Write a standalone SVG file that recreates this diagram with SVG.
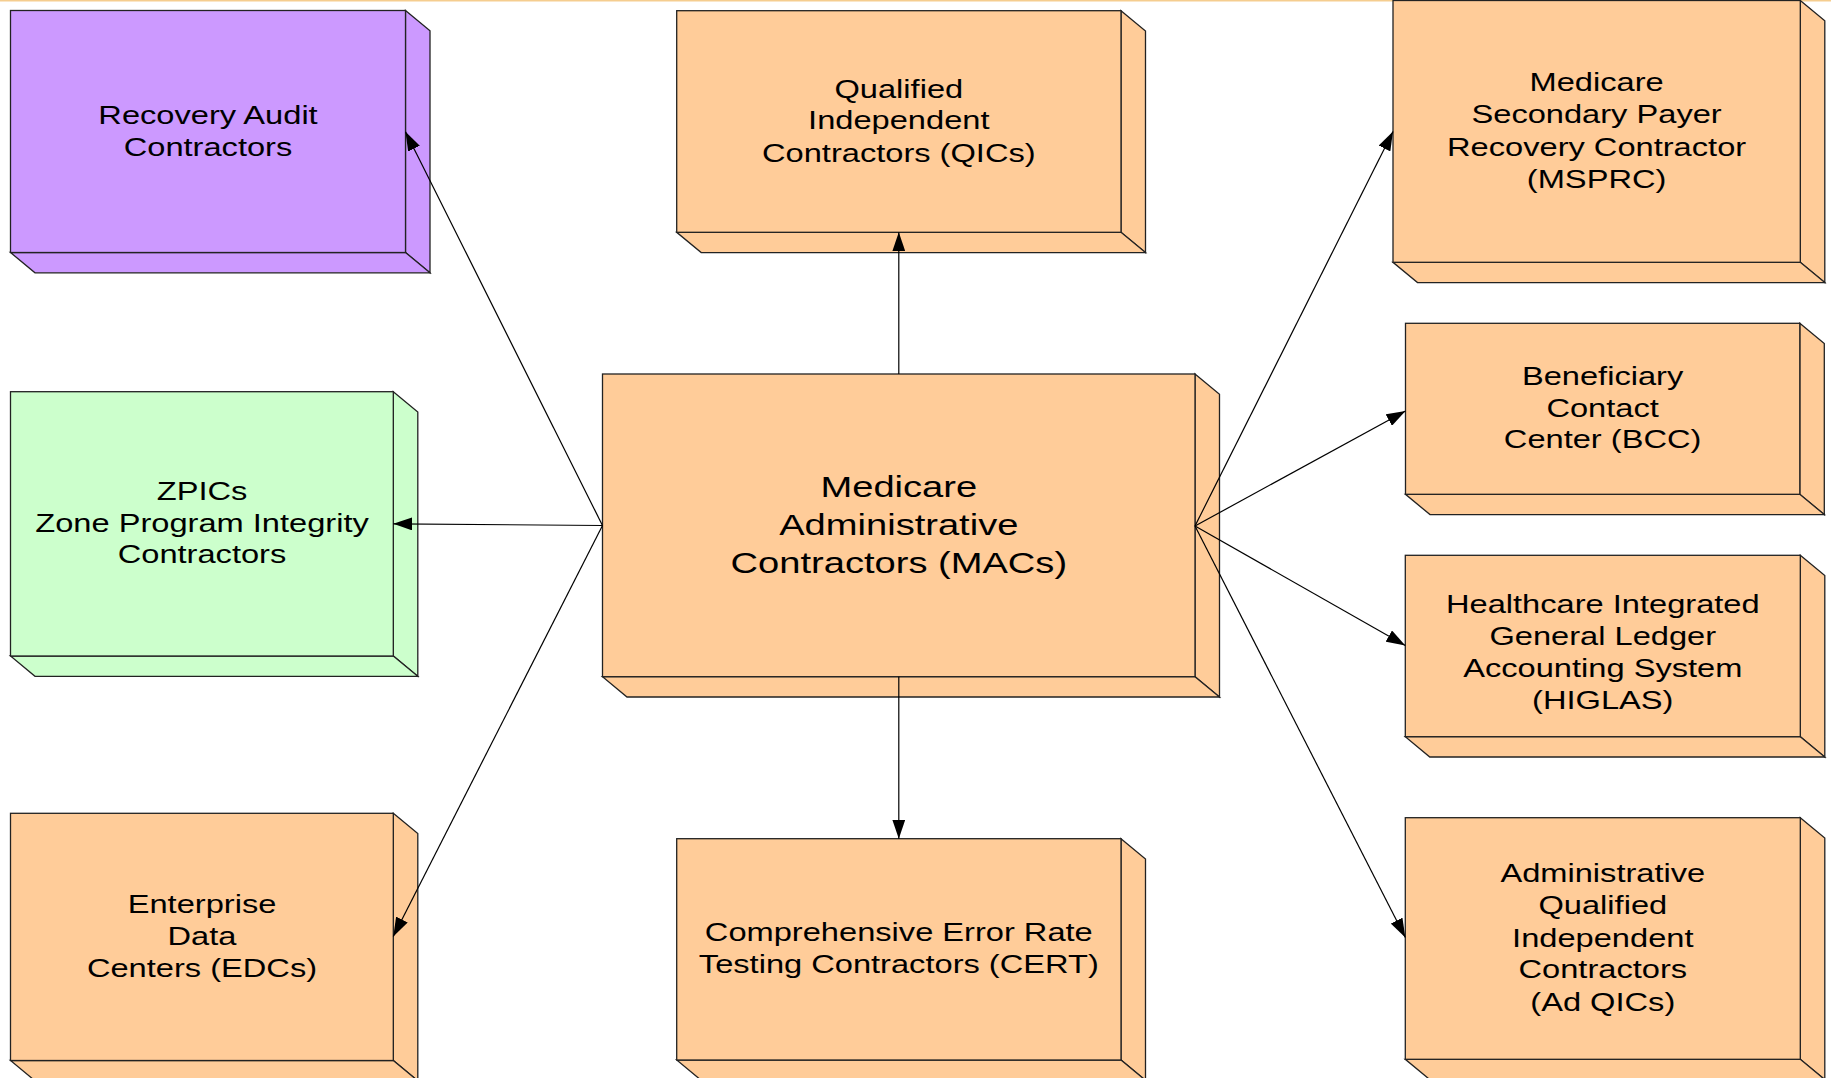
<svg xmlns="http://www.w3.org/2000/svg" width="1831" height="1078" viewBox="0 0 1831 1078">
<defs>
<style>
.face{stroke:#222;stroke-width:1.3;stroke-linejoin:miter}
.peach{fill:#FFCC99}
.purple{fill:#CC99FF}
.green{fill:#CCFFCC}
.lbl{font-family:"Liberation Sans",Arial,sans-serif;font-size:25.5px;fill:#000;text-anchor:middle}
.big{font-size:30px}
.conn{stroke:#000;stroke-width:1.2;fill:none;marker-end:url(#arr)}
</style>
<marker id="arr" viewBox="0 0 19 13" refX="19" refY="6.5" markerWidth="19" markerHeight="13" markerUnits="userSpaceOnUse" orient="auto">
<path d="M0,0 L19,6.5 L0,13 z" fill="#000"/>
</marker>
</defs>
<rect x="0" y="0" width="1831" height="1078" fill="#FFFFFF"/>
<line x1="0" y1="0.8" x2="1831" y2="0.8" stroke="#F5CD8F" stroke-width="1.6"/>

<g id="node-rac">
<polygon class="face purple" points="405.5,10.5 430,30.8 430,272.8 405.5,252.5"/>
<polygon class="face purple" points="10.5,252.5 405.5,252.5 430,272.8 35,272.8"/>
<rect class="face purple" x="10.5" y="10.5" width="395" height="242"/>
<text class="lbl" transform="translate(208,0) scale(1.28,1)"><tspan x="0" y="124">Recovery Audit</tspan><tspan x="0" y="155.7">Contractors</tspan></text>
</g>

<g id="node-qic">
<polygon class="face peach" points="1121,10.7 1145.5,31 1145.5,252.6 1121,232.3"/>
<polygon class="face peach" points="676.7,232.3 1121,232.3 1145.5,252.6 701.2,252.6"/>
<rect class="face peach" x="676.7" y="10.7" width="444.3" height="221.6"/>
<text class="lbl" transform="translate(898.8,0) scale(1.28,1)"><tspan x="0" y="97.7">Qualified</tspan><tspan x="0" y="129.5">Independent</tspan><tspan x="0" y="161.7">Contractors (QICs)</tspan></text>
</g>

<g id="node-msprc">
<polygon class="face peach" points="1800.3,0.5 1824.8,20.8 1824.8,282.6 1800.3,262.3"/>
<polygon class="face peach" points="1393,262.3 1800.3,262.3 1824.8,282.6 1417.5,282.6"/>
<rect class="face peach" x="1393" y="0.5" width="407.3" height="261.8"/>
<text class="lbl" transform="translate(1596.6,0) scale(1.28,1)"><tspan x="0" y="90.7">Medicare</tspan><tspan x="0" y="122.7">Secondary Payer</tspan><tspan x="0" y="155.7">Recovery Contractor</tspan><tspan x="0" y="188">(MSPRC)</tspan></text>
</g>

<g id="node-zpic">
<polygon class="face green" points="393.3,391.7 417.8,412 417.8,676.3 393.3,656"/>
<polygon class="face green" points="10.5,656 393.3,656 417.8,676.3 35,676.3"/>
<rect class="face green" x="10.5" y="391.7" width="382.8" height="264.3"/>
<text class="lbl" transform="translate(202,0) scale(1.28,1)"><tspan x="0" y="500">ZPICs</tspan><tspan x="0" y="531.7">Zone Program Integrity</tspan><tspan x="0" y="563.3">Contractors</tspan></text>
</g>

<g id="node-mac">
<polygon class="face peach" points="1195,374 1219.5,394.3 1219.5,697 1195,676.7"/>
<polygon class="face peach" points="602.5,676.7 1195,676.7 1219.5,697 627,697"/>
<rect class="face peach" x="602.5" y="374" width="592.5" height="302.7"/>
<text class="lbl big" transform="translate(898.8,0) scale(1.27,1)"><tspan x="0" y="496.7">Medicare</tspan><tspan x="0" y="535">Administrative</tspan><tspan x="0" y="573.3">Contractors (MACs)</tspan></text>
</g>

<g id="node-bcc">
<polygon class="face peach" points="1799.8,323.3 1824.3,343.6 1824.3,514.6 1799.8,494.3"/>
<polygon class="face peach" points="1405.5,494.3 1799.8,494.3 1824.3,514.6 1430,514.6"/>
<rect class="face peach" x="1405.5" y="323.3" width="394.3" height="171"/>
<text class="lbl" transform="translate(1602.6,0) scale(1.28,1)"><tspan x="0" y="385">Beneficiary</tspan><tspan x="0" y="417.3">Contact</tspan><tspan x="0" y="448.5">Center (BCC)</tspan></text>
</g>

<g id="node-higlas">
<polygon class="face peach" points="1800.3,555.3 1824.8,575.6 1824.8,757 1800.3,736.7"/>
<polygon class="face peach" points="1405.3,736.7 1800.3,736.7 1824.8,757 1429.8,757"/>
<rect class="face peach" x="1405.3" y="555.3" width="395" height="181.4"/>
<text class="lbl" transform="translate(1602.8,0) scale(1.28,1)"><tspan x="0" y="613.3">Healthcare Integrated</tspan><tspan x="0" y="645.5">General Ledger</tspan><tspan x="0" y="677.3">Accounting System</tspan><tspan x="0" y="708.8">(HIGLAS)</tspan></text>
</g>

<g id="node-edc">
<polygon class="face peach" points="393.3,813.3 417.8,833.6 417.8,1080.8 393.3,1060.5"/>
<polygon class="face peach" points="10.5,1060.5 393.3,1060.5 417.8,1080.8 35,1080.8"/>
<rect class="face peach" x="10.5" y="813.3" width="382.8" height="247.2"/>
<text class="lbl" transform="translate(202,0) scale(1.28,1)"><tspan x="0" y="912.7">Enterprise</tspan><tspan x="0" y="944.7">Data</tspan><tspan x="0" y="976.7">Centers (EDCs)</tspan></text>
</g>

<g id="node-cert">
<polygon class="face peach" points="1121,838.7 1145.5,859 1145.5,1080.3 1121,1060"/>
<polygon class="face peach" points="676.7,1060 1121,1060 1145.5,1080.3 701.2,1080.3"/>
<rect class="face peach" x="676.7" y="838.7" width="444.3" height="221.3"/>
<text class="lbl" transform="translate(898.8,0) scale(1.28,1)"><tspan x="0" y="940.7">Comprehensive Error Rate</tspan><tspan x="0" y="973.3">Testing Contractors (CERT)</tspan></text>
</g>

<g id="node-adqic">
<polygon class="face peach" points="1800.3,817.7 1824.8,838 1824.8,1079.6 1800.3,1059.3"/>
<polygon class="face peach" points="1405.3,1059.3 1800.3,1059.3 1824.8,1079.6 1429.8,1079.6"/>
<rect class="face peach" x="1405.3" y="817.7" width="395" height="241.6"/>
<text class="lbl" transform="translate(1602.8,0) scale(1.28,1)"><tspan x="0" y="881.7">Administrative</tspan><tspan x="0" y="914">Qualified</tspan><tspan x="0" y="946.7">Independent</tspan><tspan x="0" y="978.5">Contractors</tspan><tspan x="0" y="1010.7">(Ad QICs)</tspan></text>
</g>

<g id="connectors">
<line class="conn" x1="898.8" y1="374" x2="898.8" y2="232.3"/>
<line class="conn" x1="898.8" y1="676.7" x2="898.8" y2="838.7"/>
<line class="conn" x1="602.5" y1="525.5" x2="405.5" y2="131.7"/>
<line class="conn" x1="602.5" y1="525.5" x2="393.3" y2="523.8"/>
<line class="conn" x1="602.5" y1="525.5" x2="393.3" y2="936.5"/>
<line class="conn" x1="1195" y1="526" x2="1393" y2="131.5"/>
<line class="conn" x1="1195" y1="526" x2="1405.5" y2="411"/>
<line class="conn" x1="1195" y1="526" x2="1405.3" y2="645.5"/>
<line class="conn" x1="1195" y1="526" x2="1405.3" y2="937.5"/>
</g>
</svg>
